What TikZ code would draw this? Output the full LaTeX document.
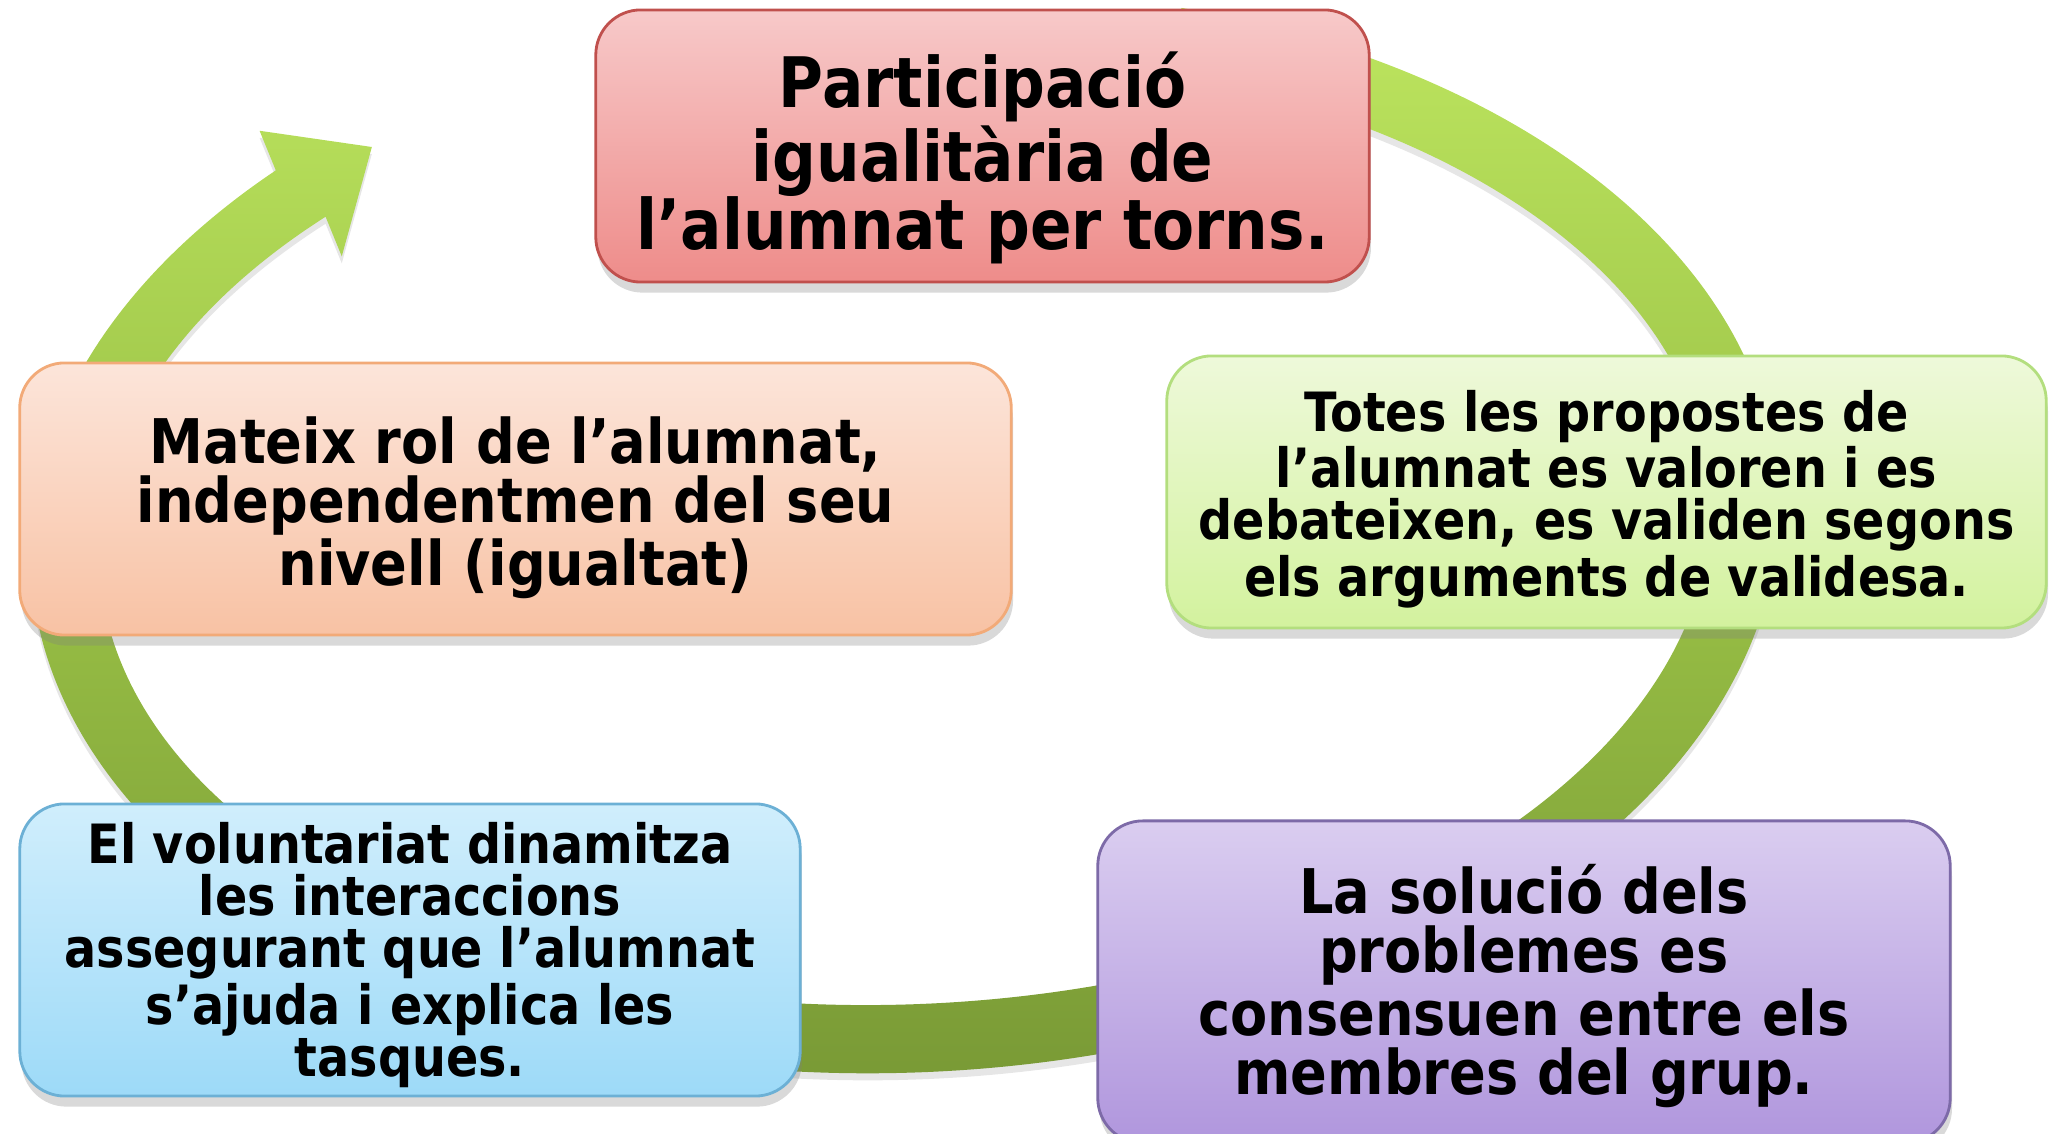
\documentclass[tikz,border=0pt]{standalone}
\usepackage{fontspec}
\setmainfont{DejaVu Sans}[FakeStretch=0.88]
\usetikzlibrary{shadows}

\definecolor{anellclar}{HTML}{BDE55F}
\definecolor{anellmig}{HTML}{98BF45}
\definecolor{anellfosc}{HTML}{769634}
\definecolor{vermellvora}{HTML}{C0504D}
\definecolor{vermelldalt}{HTML}{F7C9C9}
\definecolor{vermellbaix}{HTML}{EE8C8A}
\definecolor{taronjavora}{HTML}{F2AA78}
\definecolor{taronjadalt}{HTML}{FCE5DA}
\definecolor{taronjabaix}{HTML}{F8C2A4}
\definecolor{verdavora}{HTML}{B3DE7E}
\definecolor{verdadalt}{HTML}{EEF9DA}
\definecolor{verdabaix}{HTML}{D3F29E}
\definecolor{blavavora}{HTML}{6CB0D5}
\definecolor{blavadalt}{HTML}{D0EEFC}
\definecolor{blavabaix}{HTML}{9DDAF8}
\definecolor{lilavora}{HTML}{7D6AA8}
\definecolor{liladalt}{HTML}{DACDF0}
\definecolor{lilabaix}{HTML}{B096DD}

% primera linia mes alta per baixar el text
\newcommand{\puja}[1]{\rule{0pt}{#1}}

\tikzstyle{caixa}=[rounded corners=0.45cm,line width=0.8pt,align=center,inner sep=0pt,
  drop shadow={shadow xshift=0.5pt,shadow yshift=-3pt,opacity=0.3}]
\tikzstyle{gran}=[font=\bfseries\fontsize{19.8}{19.35}\selectfont]
\tikzstyle{mitja}=[font=\bfseries\fontsize{17.5}{16.8}\selectfont]
\tikzstyle{petit}=[font=\bfseries\fontsize{15.4}{14.9}\selectfont]
\tikzstyle{vermella}=[draw=vermellvora,top color=vermelldalt,bottom color=vermellbaix]
\tikzstyle{taronja}=[draw=taronjavora,top color=taronjadalt,bottom color=taronjabaix]
\tikzstyle{verda}=[draw=verdavora,top color=verdadalt,bottom color=verdabaix]
\tikzstyle{blava}=[draw=blavavora,top color=blavadalt,bottom color=blavabaix]
\tikzstyle{lila}=[draw=lilavora,top color=liladalt,bottom color=lilabaix]
\tikzstyle{anell}=[top color=anellclar,bottom color=anellfosc,middle color=anellmig,
  drop shadow={shadow xshift=0pt,shadow yshift=-2pt,opacity=0.2}]

\begin{document}
\begin{tikzpicture}[x=0.01cm,y=-0.01cm]
  \useasboundingbox (0,0) rectangle (2050,1134);
  % cercle amb fletxa
  \begin{scope}[shift={(905,530)},rotate=2.5]
    \coordinate (cua) at (70:8.74cm and 5.42cm);
    \coordinate (ala1) at (-6.271cm,4.268cm);
    \coordinate (punta) at (-5.157cm,4.057cm);
    \coordinate (ala2) at (-5.505cm,2.978cm);
    \path[anell] (cua) arc[start angle=70,end angle=-225.5,x radius=8.74cm,y radius=5.42cm]
      -- (ala1) -- (punta) -- (ala2)
      -- (-225.5:8.06cm and 4.74cm)
      arc[start angle=-225.5,end angle=70,x radius=8.06cm,y radius=4.74cm] -- cycle;
  \end{scope}
  % caixes
  \node[caixa,vermella,gran,minimum width=7.73cm,minimum height=2.72cm] (participacio) at (982.5,146)
    {\puja{22.7pt}Participació\\igualitària de\\l’alumnat per torns.};
  \node[caixa,verda,petit,minimum width=8.79cm,minimum height=2.72cm] (propostes) at (1606.5,492)
    {\puja{15.7pt}Totes les propostes de\\l’alumnat es valoren i es\\debateixen, es validen segons\\els arguments de validesa.};
  \node[caixa,lila,mitja,minimum width=8.52cm,minimum height=3.22cm] (solucio) at (1524,982)
    {\puja{16.3pt}La solució dels\\problemes es\\consensuen entre els\\membres del grup.};
  \node[caixa,blava,petit,minimum width=7.80cm,minimum height=2.92cm] (voluntariat) at (410,950)
    {\puja{14.5pt}El voluntariat dinamitza\\les interaccions\\assegurant que l’alumnat\\s’ajuda i explica les\\tasques.};
  \node[caixa,taronja,mitja,minimum width=9.91cm,minimum height=2.72cm] (rol) at (515.5,499)
    {\puja{18.4pt}Mateix rol de l’alumnat,\\independentmen del seu\\nivell (igualtat)};
\end{tikzpicture}
\end{document}
